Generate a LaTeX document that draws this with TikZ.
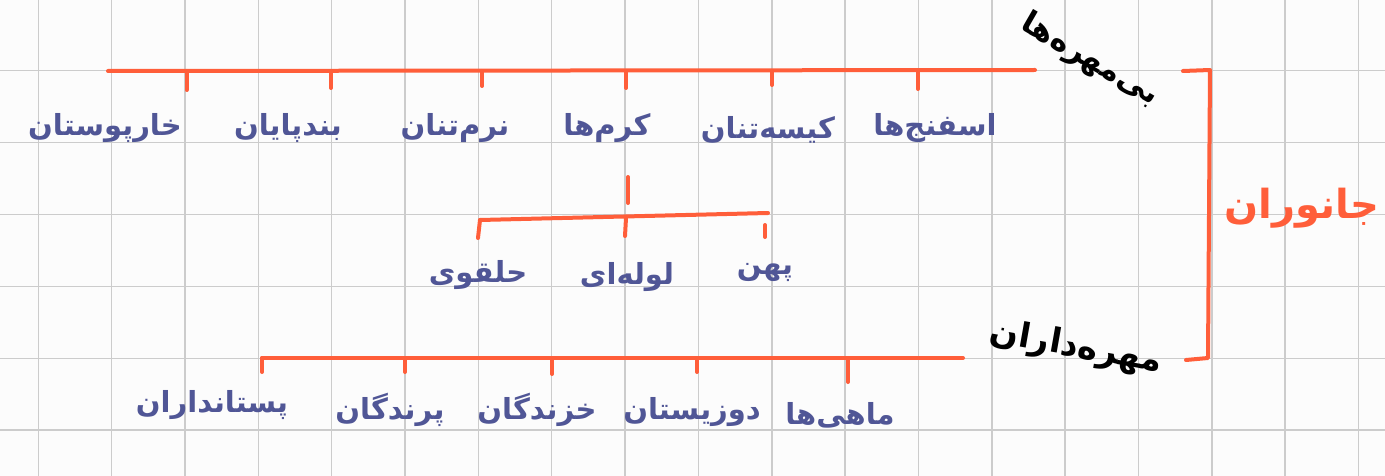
\documentclass[tikz,border=0pt]{standalone}
\usepackage{fontspec}
\newfontfamily\arabicbold[Script=Arabic]{DejaVu Sans Bold}
\TeXXeTstate=1
\definecolor{ink}{RGB}{80,86,150}
\definecolor{orng}{RGB}{255,94,58}
\definecolor{gridc}{RGB}{204,204,204}
\definecolor{paper}{RGB}{252,252,252}
\begin{document}
\begin{tikzpicture}[x=1pt,y=-1pt,
  branch/.style={draw=orng, line width=4pt, line cap=round, line join=round},
  lbl/.style={text=ink, font=\arabicbold\fontsize{29}{34}\selectfont, inner sep=0pt},
  head/.style={text=black, font=\arabicbold\fontsize{34}{38}\selectfont, inner sep=0pt},
  rootlbl/.style={text=orng, font=\arabicbold\fontsize{40}{44}\selectfont, inner sep=0pt}]
\fill[paper] (0,0) rectangle (1385,476);
\useasboundingbox (0,0) rectangle (1385,476);
\foreach \i in {0,...,18} \draw[gridc, line width=1.6pt] ({38.3+73.34*\i},0) -- ({38.3+73.34*\i},476);
\foreach \j in {0,...,5} \draw[gridc, line width=1.6pt] (0,{70.7+71.9*\j}) -- (1385,{70.7+71.9*\j});

% headings
\node[rootlbl] (animals) at (1302,208) {\beginR جانوران\endR};
\node[head, font=\arabicbold\fontsize{31}{36}\selectfont, rotate=-30] (inv) at (1090,60) {\beginR بی^^^^200cمهره^^^^200cها\endR};
\node[head, rotate=-10] (vert) at (1076,348) {\beginR مهره^^^^200cداران\endR};

% bracket
\coordinate (bt0) at (1183,71);
\coordinate (bt) at (1210,70);
\coordinate (bb) at (1208,358);
\coordinate (bb0) at (1186,360);
\draw[branch] (bt0) -- (bt) -- (bb) -- (bb0);

% invertebrates
\coordinate (iL) at (108,71);
\coordinate (iR) at (1035,70);
\draw[branch] (iL) -- (iR);
\node[lbl] (i1) at (935,128) {\beginR اسفنج^^^^200cها\endR};
\node[lbl] (i2) at (768,130) {\beginR کیسه^^^^200cتنان\endR};
\node[lbl] (i3) at (607,128) {\beginR کرم^^^^200cها\endR};
\node[lbl] (i4) at (455,128) {\beginR نرم^^^^200cتنان\endR};
\node[lbl] (i5) at (288,128) {\beginR بندپایان\endR};
\node[lbl] (i6) at (105,128) {\beginR خارپوستان\endR};
\foreach \x/\l in {918/18, 772/14, 626/17, 482/15, 331/17, 186.7/19}
  \draw[branch] (\x,71) -- (\x,71+\l);

% worms
\coordinate (wT) at (628,177);
\coordinate (wM) at (626,218);
\coordinate (wL) at (480,220);
\coordinate (wR) at (768,213);
\draw[branch] (wT) -- (628,203);
\draw[branch] (wL) -- (wR);
\draw[branch] (wL) -- (478,238);
\draw[branch] (wM) -- (625,236);
\draw[branch] (765,225) -- (765,237);
\node[lbl] (w1) at (478,275) {\beginR حلقوی\endR};
\node[lbl] (w2) at (627,277) {\beginR لوله^^^^200cای\endR};
\node[lbl] (w3) at (765,272) {\beginR پهن\endR};

% vertebrates
\coordinate (vL) at (262,358);
\coordinate (vR) at (963,358);
\draw[branch] (vL) -- (vR);
\foreach \x/\l in {262/14, 405/14, 552/16, 697/14, 848/24}
  \draw[branch] (\x,358) -- (\x,358+\l);
\node[lbl] (v1) at (840,415) {\beginR ماهی^^^^200cها\endR};
\node[lbl] (v2) at (692,412) {\beginR دوزیستان\endR};
\node[lbl] (v3) at (537,410) {\beginR خزندگان\endR};
\node[lbl] (v4) at (390,410) {\beginR پرندگان\endR};
\node[lbl] (v5) at (212,405) {\beginR پستانداران\endR};
\end{tikzpicture}
\end{document}
